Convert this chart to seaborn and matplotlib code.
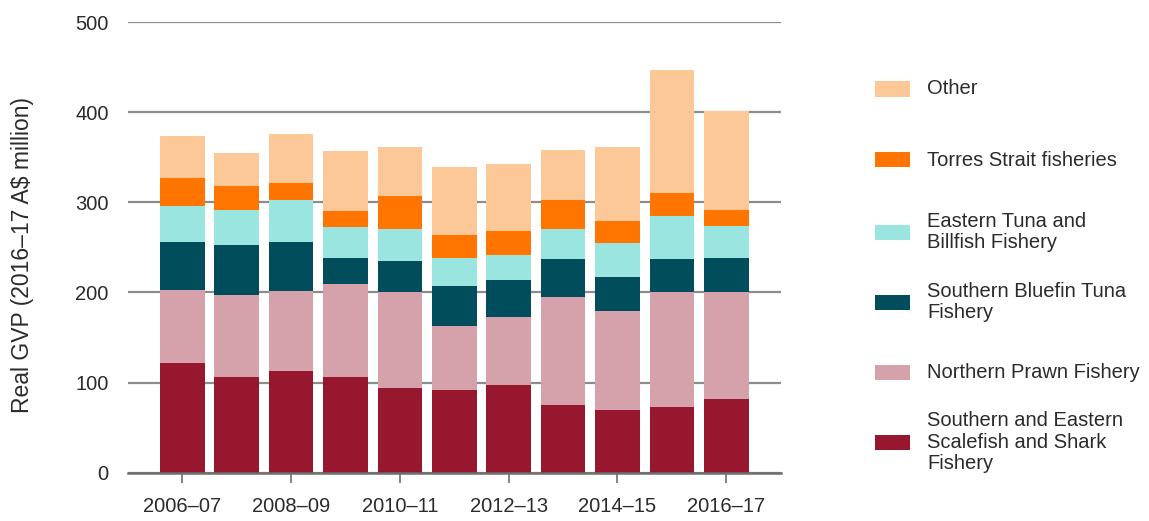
import matplotlib
matplotlib.use("Agg")
import matplotlib.pyplot as plt
from matplotlib.patches import Rectangle
import numpy as np
import pandas as pd
import seaborn as sns

# Real gross value of production by Commonwealth fishery (2016–17 A$ million)
years = ["2006–07", "2007–08", "2008–09", "2009–10", "2010–11", "2011–12",
         "2012–13", "2013–14", "2014–15", "2015–16", "2016–17"]

sess = [122.0, 106.5, 112.8, 106.5, 94.2, 91.7, 97.2, 75.0, 69.4, 72.4, 81.7]
npf = [80.8, 90.7, 88.9, 102.6, 106.0, 71.1, 75.9, 120.3, 110.4, 127.8, 118.5]
sbt = [53.0, 55.6, 54.1, 29.6, 35.1, 44.8, 40.8, 41.6, 37.1, 36.7, 38.5]
etbf = [40.7, 38.9, 47.0, 34.4, 34.9, 31.1, 27.8, 33.3, 37.7, 48.4, 35.5]
torres = [31.1, 26.6, 18.5, 17.5, 37.0, 24.8, 26.6, 32.6, 24.8, 24.9, 17.5]
other = [46.3, 37.0, 54.5, 66.6, 54.1, 76.3, 74.1, 55.5, 81.9, 137.0, 110.0]

series_names = [
    "Southern and Eastern\nScalefish and Shark\nFishery",
    "Northern Prawn Fishery",
    "Southern Bluefin Tuna\nFishery",
    "Eastern Tuna and\nBillfish Fishery",
    "Torres Strait fisheries",
    "Other",
]
series_values = [sess, npf, sbt, etbf, torres, other]
colors = ["#96172E", "#D5A1AB", "#024D5B", "#9AE5E0", "#FF7500", "#FDC898"]

tick_years = ["2006–07", "2008–09", "2010–11", "2012–13", "2014–15", "2016–17"]

plt.rcParams["font.family"] = ["Liberation Sans", "DejaVu Sans"]
text_color = "#2b2b2b"

fig = plt.figure(figsize=(11.49, 5.21), dpi=100)
ax = fig.add_axes([0.1114, 0.093, 0.568, 0.864])

# Stack the series: each layer sits on the running total of the layers below
bottom = np.zeros(len(years))
for name, vals, col in zip(series_names, series_values, colors):
    df = pd.DataFrame({"year": years, "value": vals})
    sns.barplot(data=df, x="year", y="value", order=years, color=col,
                bottom=bottom.copy(), width=0.82, linewidth=0,
                saturation=1, ax=ax, zorder=3)
    bottom += np.asarray(vals)

ax.set_xlim(-1.0, 11.0)
ax.set_ylim(0, 500)
ax.set_yticks([0, 100, 200, 300, 400, 500])
ax.yaxis.grid(True, color="#8c8c8c", linewidth=1.6, zorder=0)
ax.set_axisbelow(True)

tick_pos = [years.index(t) for t in tick_years]
ax.set_xticks(tick_pos)
ax.set_xticklabels(tick_years)

for s in ["top", "right", "left"]:
    ax.spines[s].set_visible(False)
ax.spines["bottom"].set_color("#6e6e6e")
ax.spines["bottom"].set_linewidth(1.8)
ax.spines["bottom"].set_zorder(4)

ax.tick_params(axis="y", length=0, pad=14, labelsize=14.5, labelcolor=text_color)
ax.tick_params(axis="x", length=7.5, width=1.2, color="#6e6e6e", pad=10,
               labelsize=14.5, labelcolor=text_color)

ax.set_xlabel("")
ax.set_ylabel("Real GVP (2016–17 A$ million)", fontsize=16.5, color=text_color)
ax.yaxis.label.set_va("center")
ax.yaxis.set_label_coords(-0.161, 0.484)

# Legend: one swatch per fishery, top entry is the top of the stack
W, H = fig.get_size_inches() * fig.dpi
centres = [442, 372, 302, 232, 160, 89]
for name, col, cy in zip(series_names, colors, centres):
    fig.patches.append(Rectangle((875 / W, 1 - (cy + 7.5) / H), 35 / W, 15 / H,
                                 transform=fig.transFigure, facecolor=col,
                                 edgecolor="none"))
    fig.text(927 / W, 1 - cy / H, name, ha="left", va="center",
             fontsize=14.5, color=text_color, linespacing=1.15)

fig.savefig("out.png", dpi=100)
